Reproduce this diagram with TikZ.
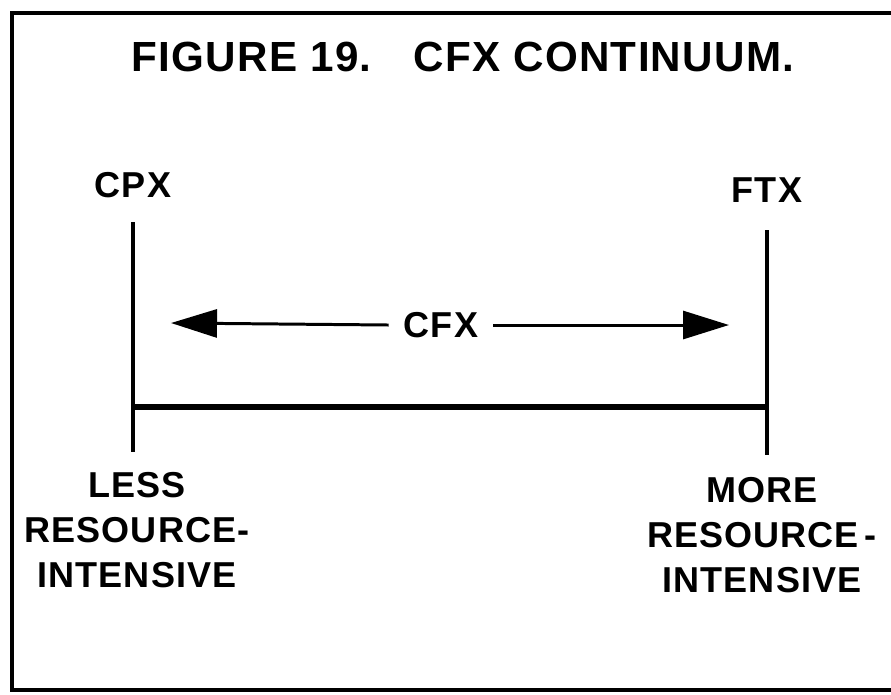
\documentclass[tikz,border=0pt]{standalone}
\usepackage{fontspec}
\setmainfont{Liberation Sans}[LetterSpace=3]
\usetikzlibrary{arrows.meta}
\begin{document}
\begin{tikzpicture}[x=0.02cm,y=-0.02cm,
  lbl/.style={font=\fontsize{20.5}{25.5}\selectfont\bfseries, align=center, inner sep=0pt},
  rule/.style={line width=1.8pt},
  fleche/.style={line width=1.7pt, -{Triangle[length=0.92cm,width=0.56cm]}}]
\useasboundingbox (0,0) rectangle (891,694);
% Cadre
\draw[rule] (905,13) -- (12,13) -- (12,690) -- (905,690);
% Titre
\node[lbl, font=\fontsize{24}{28}\selectfont\bfseries] (titre) at (463,57) {FIGURE 19.\hspace{1em}CFX CONTINUUM.};
% Extremites
\node[lbl] (cpx) at (133,185) {CPX};
\node[lbl] (ftx) at (767,190) {FTX};
\coordinate (hautG) at (133,222);
\coordinate (basG) at (133,452);
\coordinate (hautD) at (767,230);
\coordinate (basD) at (767,455);
\draw[rule] (hautG) -- (basG);
\draw[rule] (hautD) -- (basD);
% Echelle
\coordinate (echG) at (133,407);
\coordinate (echD) at (767,407);
\draw[line width=3pt] (echG) -- (echD);
% Continuum
\node[lbl, inner xsep=0.3cm] (cfx) at (441,325) {CFX};
\coordinate (pointeG) at (171,323);
\coordinate (pointeD) at (729,325);
\draw[fleche] (cfx.west) -- (pointeG);
\draw[fleche] (cfx.east) -- (pointeD);
% Legendes
\node[lbl] (moins) at (137,530) {LESS\\RESOURCE-\\INTENSIVE};
\node[lbl] (plus) at (762,535) {MORE\\RESOURCE\,-\\INTENSIVE};
\end{tikzpicture}
\end{document}
